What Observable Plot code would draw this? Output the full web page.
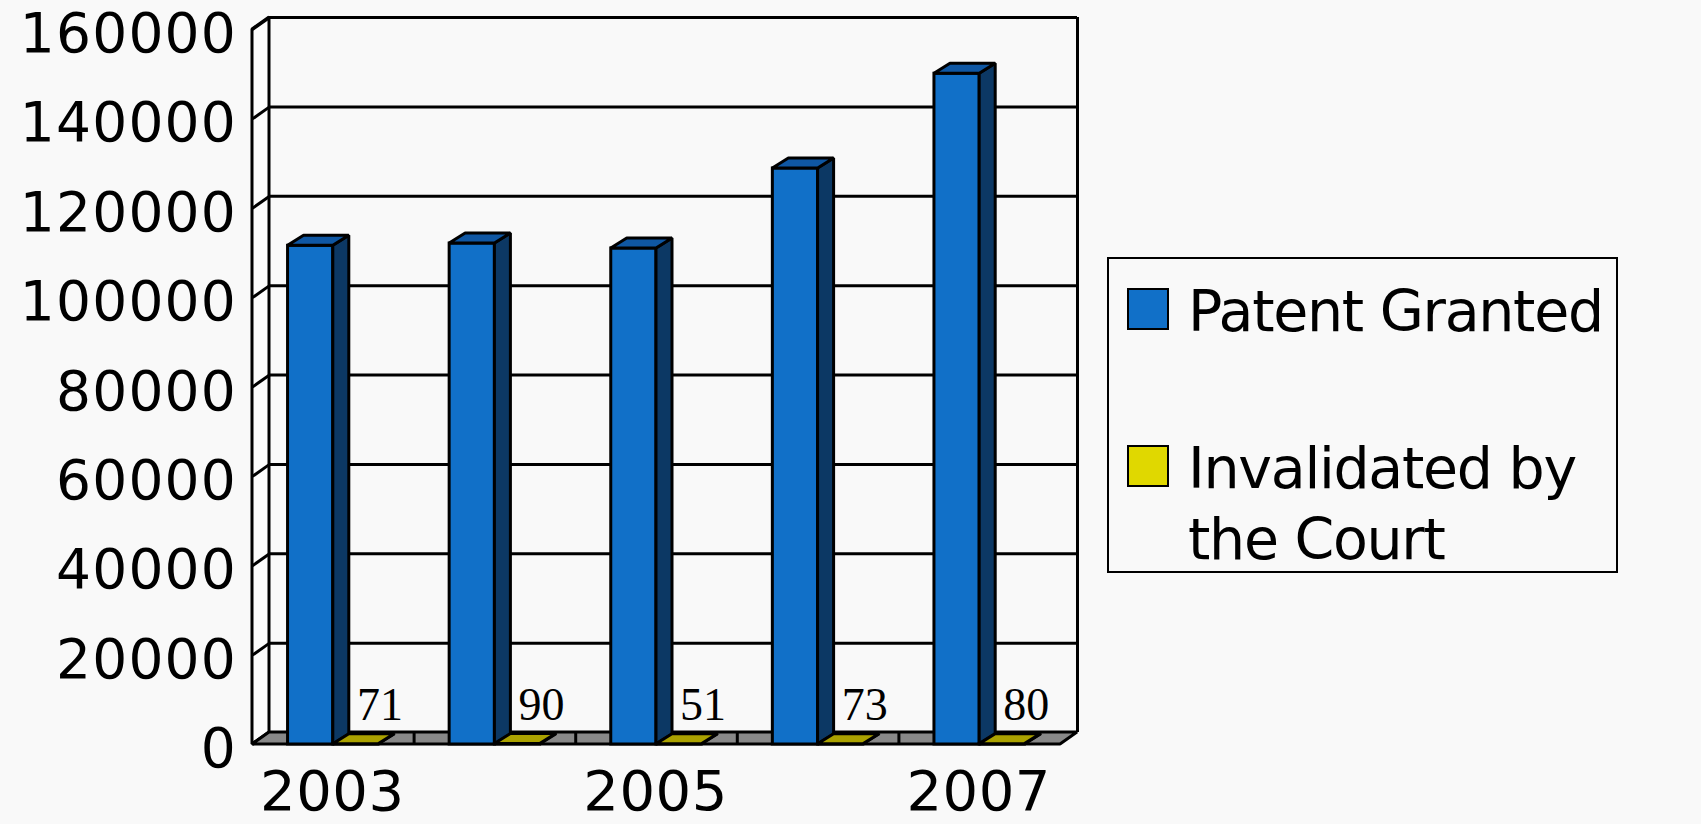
<!DOCTYPE html>
<html>
<head>
<meta charset="utf-8">
<script src="https://cdn.jsdelivr.net/npm/d3@7"></script>
<script src="https://cdn.jsdelivr.net/npm/@observablehq/plot@0.6"></script>
<style>
  html, body { margin: 0; padding: 0; background: #f9f9f9; overflow: hidden; }
  #chart { position: absolute; left: 0; top: 0; }
  g[aria-label="y-axis tick label"] text { letter-spacing: 1.2px; }
  g[aria-label="x-axis tick label"] text { letter-spacing: 0.5px; }
  #legend {
    position: absolute; left: 1107px; top: 257px; width: 507px; height: 312px;
    border: 2.5px solid #000; font-family: "DejaVu Sans", sans-serif;
    font-size: 57px; letter-spacing: -1.3px; line-height: 71px; color: #000;
  }
  .swatch { position: absolute; left: 18px; width: 38px; height: 38px; border: 2.5px solid #000; }
  .label { position: absolute; left: 79px; width: 420px; }
</style>
</head>
<body>
<div id="chart"></div>
<div id="legend"></div>
<script>
// Categories and series
const years = ["2003", "2004", "2005", "2006", "2007"];
const granted = [111600, 112100, 111000, 128900, 150100];
const invalidated = [71, 90, 51, 73, 80];
const seriesNames = ["Patent Granted", "Invalidated by the Court"];
const seriesColors = ["#1170c8", "#e0d800"];
const sideColors = ["#0c3864", "#6e6800"];
const topColors = ["#0f57a3", "#aba200"];
const yTicks = [0, 20000, 40000, 60000, 80000, 100000, 120000, 140000, 160000];
const xTickYears = ["2003", "2005", "2007"];

// Oblique projection of the depth axis, expressed in data units
const W = 1701, H = 824;
const margin = {left: 252, right: 641, top: 29, bottom: 80};
const plotW = W - margin.left - margin.right;
const plotH = H - margin.top - margin.bottom;
const yMax = 160000;
const xPx = years.length / plotW, yPx = yMax / plotH;
const wallDx = 17 * xPx, wallDy = 12 * yPx;
const barDx = 16 * xPx, barDy = 10 * yPx;
const barW = 0.28;

// One row per bar
const bars = [];
years.forEach((year, i) => {
  bars.push({year, s: 0, value: granted[i], x1: i + 0.5 - barW, x2: i + 0.5});
  bars.push({year, s: 1, value: invalidated[i], x1: i + 0.5, x2: i + 0.5 + barW});
});
const sides = bars.flatMap((b, k) => [
  {k, s: b.s, x: b.x2, y1: 0, y2: b.value},
  {k, s: b.s, x: b.x2 + barDx, y1: barDy, y2: b.value + barDy}
]);
const tops = bars.flatMap((b, k) => [
  {k, s: b.s, y: b.value, x1: b.x1, x2: b.x2},
  {k, s: b.s, y: b.value + barDy, x1: b.x1 + barDx, x2: b.x2 + barDx}
]);
const stroke = {stroke: "#000", strokeWidth: 3, strokeLinejoin: "miter"};
const n = years.length;

const chart = Plot.plot({
  width: W, height: H,
  marginLeft: margin.left, marginRight: margin.right,
  marginTop: margin.top, marginBottom: margin.bottom,
  style: {background: "transparent", fontFamily: "DejaVu Sans, sans-serif"},
  x: {type: "linear", domain: [0, n], axis: null},
  y: {type: "linear", domain: [0, yMax], axis: null},
  marks: [
    // left wall
    Plot.areaY([{x: 0, y1: 0, y2: yMax}, {x: wallDx, y1: wallDy, y2: yMax + wallDy}],
      {x: "x", y1: "y1", y2: "y2", fill: "#fcfcfc", ...stroke}),
    // gridlines on the back wall
    Plot.ruleY(yTicks, {y: d => d + wallDy, x1: () => wallDx, x2: () => n + wallDx, ...stroke}),
    Plot.link(yTicks, {x1: () => 0, y1: d => d, x2: () => wallDx, y2: d => d + wallDy, ...stroke}),
    Plot.ruleX([n + wallDx], {x: d => d, y1: () => wallDy, y2: () => yMax + wallDy, ...stroke}),
    // floor
    Plot.areaX([{y: 0, x1: 0, x2: n}, {y: wallDy, x1: wallDx, x2: n + wallDx}],
      {y: "y", x1: "x1", x2: "x2", fill: "#888", ...stroke}),
    Plot.ruleX(d3.range(1, n), {x: d => d, y1: () => 0, y2: () => wallDy, ...stroke}),
    // bars: front, side and top faces
    Plot.rect(bars, {x1: "x1", x2: "x2", y1: () => 0, y2: "value", fill: d => seriesColors[d.s], ...stroke}),
    Plot.areaY(sides, {x: "x", y1: "y1", y2: "y2", z: "k", fill: d => sideColors[d.s], ...stroke}),
    Plot.areaX(tops, {y: "y", x1: "x1", x2: "x2", z: "k", fill: d => topColors[d.s], ...stroke}),
    // value labels on the invalidated series
    Plot.text(bars.filter(b => b.s === 1), {
      x: d => (d.x1 + d.x2) / 2, y: "value", text: d => String(d.value),
      dx: 24, dy: -39, fontSize: 46, fontFamily: "Liberation Serif, Times New Roman, serif",
      fill: "#000", textAnchor: "middle", lineAnchor: "middle"
    }),
    // axes
    Plot.axisY(yTicks, {anchor: "left", tickSize: 0, tickPadding: 15.5, fontSize: 55, dy: 5, tickFormat: d => String(d)}),
    Plot.axisX(xTickYears.map(y => years.indexOf(y) + 0.5), {
      anchor: "bottom", tickSize: 0, tickPadding: 26, fontSize: 56, dx: -1,
      tickFormat: d => years[Math.floor(d)]
    })
  ]
});
chart.setAttribute("fill", "#000");
document.getElementById("chart").append(chart);

// Legend
const legend = document.getElementById("legend");
const itemTops = [17, 174];
seriesNames.forEach((name, i) => {
  const sw = document.createElement("div");
  sw.className = "swatch";
  sw.style.top = (itemTops[i] + 12) + "px";
  sw.style.background = seriesColors[i];
  const lb = document.createElement("div");
  lb.className = "label";
  lb.style.top = itemTops[i] + "px";
  if (i === 0) lb.style.whiteSpace = "nowrap";
  lb.textContent = name;
  legend.append(sw, lb);
});
</script>
</body>
</html>
